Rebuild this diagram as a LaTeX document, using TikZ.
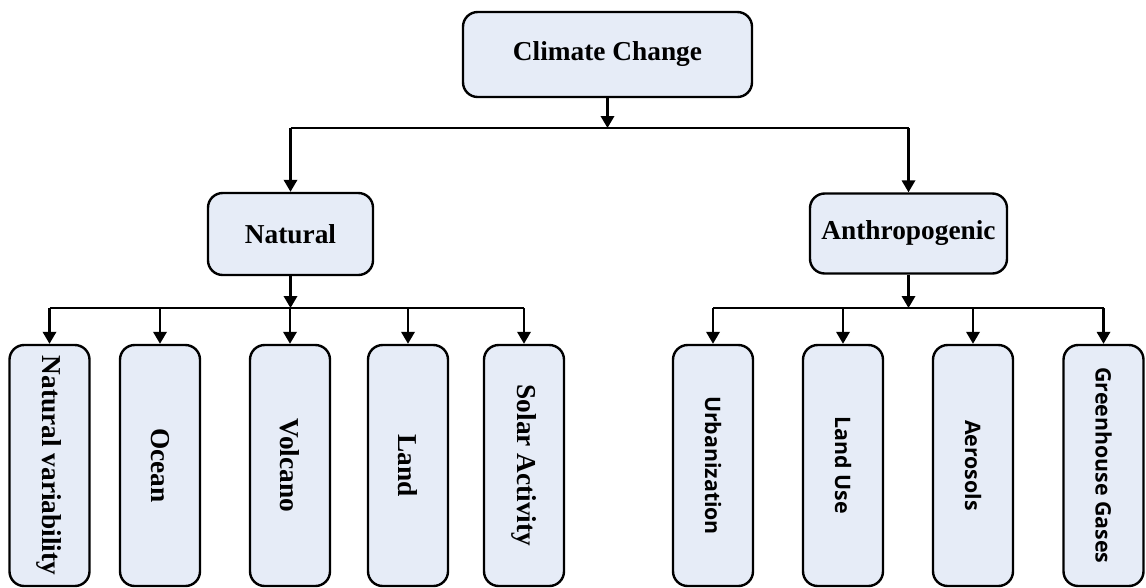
\documentclass[tikz,border=0pt]{standalone}
\usepackage{fontspec}
\setmainfont{Liberation Serif}
\newfontfamily\sansf{Open Sans}
\usetikzlibrary{arrows.meta}
\definecolor{boxfill}{RGB}{230,236,247}
\begin{document}
\begin{tikzpicture}[x=0.75pt,y=-0.75pt,
  box/.style={draw=black, line width=1.8pt, fill=boxfill, rounded corners=11pt, inner sep=0pt, align=center},
  topbox/.style={box, font=\bfseries\fontsize{20.5}{24}\selectfont},
  leafbox/.style={box, minimum width=60pt, minimum height=180.75pt},
  serifleaf/.style={leafbox, font=\bfseries\fontsize{20.5}{24}\selectfont},
  sansleaf/.style={leafbox, font=\sansf\bfseries\fontsize{16}{20}\selectfont},
  arr/.style={line width=1.8pt, -{Triangle[length=9pt,width=10pt]}},
  busline/.style={line width=1.8pt}]
\useasboundingbox (0,0) rectangle (1146,587);
% top
\node[topbox, minimum width=216.75pt, minimum height=63.75pt] (cc) at (607.5,54.5) {Climate Change};
\node[topbox, minimum width=123.75pt, minimum height=61.5pt] (nat) at (290.5,234) {Natural};
\node[topbox, minimum width=147.75pt, minimum height=60pt] (ant) at (908.5,233.5) {Anthropogenic};
% leaves
\node[serifleaf] (nv) at (49.5,465.5) {\rotatebox{-90}{Natural variability}};
\node[serifleaf] (oc) at (160,465.5) {\rotatebox{-90}{Ocean}};
\node[serifleaf] (vo) at (290,465.5) {\rotatebox{-90}{Volcano}};
\node[serifleaf] (la) at (408,465.5) {\rotatebox{-90}{Land}};
\node[serifleaf] (sa) at (524,465.5) {\rotatebox{-90}{Solar Activity}};
\node[sansleaf] (ur) at (713,465.5) {\rotatebox{-90}{Urbanization}};
\node[sansleaf] (lu) at (843,465.5) {\rotatebox{-90}{Land Use}};
\node[sansleaf] (ae) at (973,465.5) {\rotatebox{-90}{Aerosols}};
\node[sansleaf] (gg) at (1103.5,465.5) {\rotatebox{-90}{Greenhouse Gases}};
% junctions
\coordinate (j1) at (607.5,128);
\coordinate (j2) at (290.5,308);
\coordinate (j3) at (908.5,308);
% connectors
\draw[arr] (cc.south) -- (j1);
\draw[busline] (nat.north |- j1) -- (ant.north |- j1);
\draw[arr] (nat.north |- j1) -- (nat.north);
\draw[arr] (ant.north |- j1) -- (ant.north);
\draw[arr] (nat.south) -- (j2);
\draw[busline] (nv.north |- j2) -- (sa.north |- j2);
\foreach \n in {nv,oc,vo,la,sa} \draw[arr] (\n.north |- j2) -- (\n.north);
\draw[arr] (ant.south) -- (j3);
\draw[busline] (ur.north |- j3) -- (gg.north |- j3);
\foreach \n in {ur,lu,ae,gg} \draw[arr] (\n.north |- j3) -- (\n.north);
\end{tikzpicture}
\end{document}
